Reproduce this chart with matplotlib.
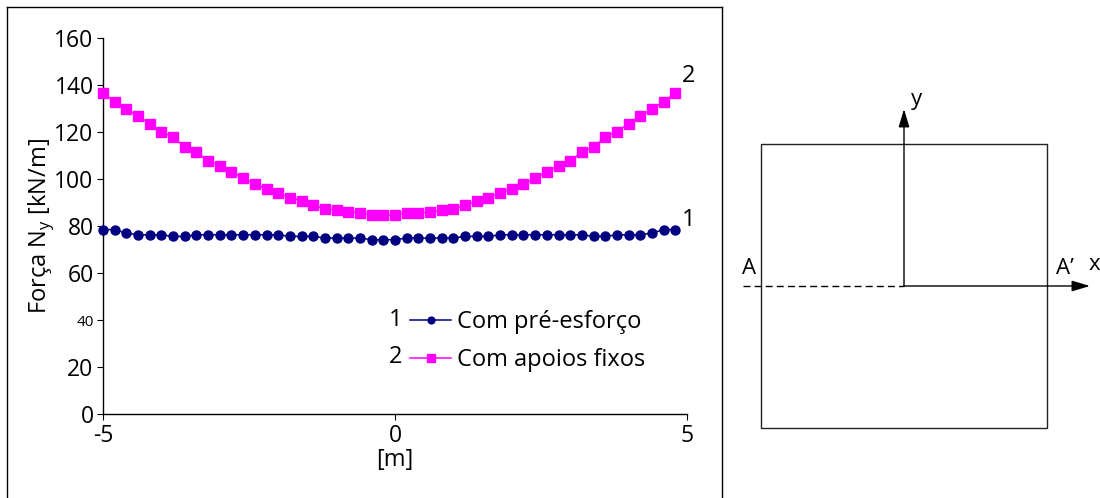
import matplotlib
matplotlib.use("Agg")
import matplotlib.pyplot as plt
from matplotlib.lines import Line2D
from matplotlib.patches import Rectangle, FancyArrowPatch

plt.rcParams['font.family'] = ['Open Sans', 'DejaVu Sans']
plt.rcParams['axes.unicode_minus'] = False

# Position along section A-A' [m]
x_pos = [-5.0, -4.8, -4.6, -4.4, -4.2, -4.0, -3.8, -3.6, -3.4, -3.2,
         -3.0, -2.8, -2.6, -2.4, -2.2, -2.0, -1.8, -1.6, -1.4, -1.2,
         -1.0, -0.8, -0.6, -0.4, -0.2, 0.0, 0.2, 0.4, 0.6, 0.8,
         1.0, 1.2, 1.4, 1.6, 1.8, 2.0, 2.2, 2.4, 2.6, 2.8,
         3.0, 3.2, 3.4, 3.6, 3.8, 4.0, 4.2, 4.4, 4.6, 4.8]

# 1 - with prestress
ny_preesforco = [78.6, 78.6, 77.1, 76.4, 76.4, 76.4, 75.7, 75.7, 76.4, 76.4,
                 76.4, 76.4, 76.4, 76.4, 76.4, 76.4, 75.7, 75.7, 75.7, 75.0,
                 75.0, 75.0, 75.0, 74.3, 74.3, 74.3, 75.0, 75.0, 75.0, 75.0,
                 75.0, 75.7, 75.7, 75.7, 76.4, 76.4, 76.4, 76.4, 76.4, 76.4,
                 76.4, 76.4, 75.7, 75.7, 76.4, 76.4, 76.4, 77.1, 78.6, 78.6]

# 2 - with fixed supports
ny_apoios = [136.9, 132.9, 130.0, 126.9, 123.7, 120.3, 117.9, 113.8, 111.7, 107.8,
             105.8, 103.2, 100.7, 98.0, 96.0, 94.2, 92.2, 90.8, 88.9, 87.5,
             86.8, 86.1, 85.7, 84.8, 84.8, 84.8, 85.7, 85.5, 86.2, 86.8,
             87.5, 88.9, 90.8, 92.2, 94.2, 96.0, 98.0, 100.6, 103.2, 105.8,
             107.8, 111.7, 113.8, 117.9, 120.3, 123.7, 126.9, 130.0, 132.9, 136.9]

series_names = ["Com pré-esforço", "Com apoios fixos"]
series_ids = ["1", "2"]
y_ticks = [0, 20, 40, 60, 80, 100, 120, 140, 160]
x_ticks = [-5, 0, 5]

# Plate geometry (square plate centred on the origin) [m]
plate_x = (-5.0, 5.0)
plate_y = (-5.0, 5.0)

FS = 17
W, H = 1100, 498
fig = plt.figure(figsize=(W / 100, H / 100), dpi=100)


def fx(px):
    return px / W


def fy(py):
    return 1 - py / H


# Frame around the chart panel (open at the bottom)
frame_kw = dict(color='black', lw=1.0, transform=fig.transFigure)
fig.add_artist(Line2D([fx(7), fx(722)], [fy(7), fy(7)], **frame_kw))
fig.add_artist(Line2D([fx(7), fx(7)], [fy(7), fy(498)], **frame_kw))
fig.add_artist(Line2D([fx(722), fx(722)], [fy(7), fy(498)], **frame_kw))

# ---- Chart ----
ax = fig.add_axes([fx(103), fy(414.3), (687 - 103) / W, (414.3 - 38.3) / H])
ax.set_xlim(-5, 5)
ax.set_ylim(0, 160)
for s in ('top', 'right'):
    ax.spines[s].set_visible(False)
for s in ('left', 'bottom'):
    ax.spines[s].set_linewidth(1.0)
ax.set_xticks(x_ticks)
ax.set_yticks(y_ticks)
ax.tick_params(direction='out', length=4.3, width=0.8, labelsize=FS - 0.5, pad=2.5)
for lbl in ax.get_yticklabels():
    if lbl.get_text() == '40':
        lbl.set_fontsize(11)

l1, = ax.plot(x_pos, ny_preesforco, color='#000080', lw=1.1, marker='o',
              markersize=6.5, clip_on=False, zorder=3)
l2, = ax.plot(x_pos, ny_apoios, color='#FF00FF', lw=1.1, marker='s',
              markersize=7.0, clip_on=False, zorder=3)

ax.set_xlabel('[m]', fontsize=FS)
ax.xaxis.set_label_coords(0.5, -0.09)
ax.set_ylabel('Força N$_\\mathregular{y}$ [kN/m]', fontsize=FS)
ax.yaxis.set_label_coords(-0.08, 0.5)

# series identifiers at the right end of the curves
ax.text(5.03, ny_apoios[-1] + 7, series_ids[1], fontsize=FS, ha='center', va='center', clip_on=False)
ax.text(5.03, ny_preesforco[-1] + 4, series_ids[0], fontsize=FS, ha='center', va='center', clip_on=False)

leg = ax.legend([l1, l2], series_names, loc='upper left',
                bbox_to_anchor=(fx(410), fy(310)), bbox_transform=fig.transFigure,
                frameon=False, fontsize=FS, handlelength=1.75, handletextpad=0.25,
                borderpad=0, borderaxespad=0, labelspacing=0.6, markerscale=0.75)
fig.text(fx(396), fy(320), series_ids[0], fontsize=FS, ha='center', va='center')
fig.text(fx(396), fy(357), series_ids[1], fontsize=FS, ha='center', va='center')

# ---- Plate sketch ----
ax2 = fig.add_axes([fx(761), fy(428), (1047 - 761) / W, (428 - 144) / H])
ax2.set_xlim(*plate_x)
ax2.set_ylim(*plate_y)
ax2.axis('off')
dcol = '#222222'
ax2.add_patch(Rectangle((plate_x[0], plate_y[0]), plate_x[1] - plate_x[0], plate_y[1] - plate_y[0],
                        fill=False, edgecolor=dcol, lw=1.0, clip_on=False))
arrow_kw = dict(arrowstyle='-|>,head_length=11,head_width=3.3', mutation_scale=1,
                color='black', lw=1.0, shrinkA=0, shrinkB=0, clip_on=False)
ax2.add_patch(FancyArrowPatch((0, 0), (0, 6.23), **arrow_kw))
ax2.add_patch(FancyArrowPatch((0, 0), (6.5, 0), **arrow_kw))
ax2.plot([-5.63, 0], [0, 0], color='black', lw=1.0, ls=(0, (5, 3)), clip_on=False)
ax2.text(0.45, 6.58, 'y', fontsize=16, ha='center', va='center')
ax2.text(-5.42, 0.6, 'A', fontsize=16, ha='center', va='center')
ax2.text(5.63, 0.6, 'A’', fontsize=16, ha='center', va='center')
ax2.text(6.65, 0.75, 'x', fontsize=16, ha='center', va='center')

fig.savefig('out.png', dpi=100)
